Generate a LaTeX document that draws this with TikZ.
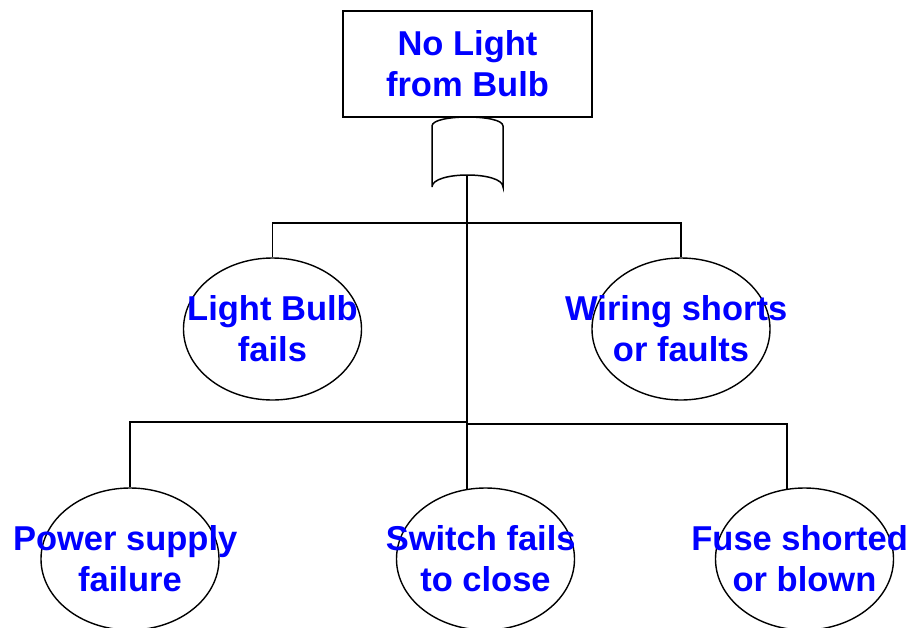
\documentclass[tikz,border=0pt]{standalone}
\usepackage{fontspec}
\setmainfont{Liberation Sans}
\usetikzlibrary{shapes.geometric}
\definecolor{evblue}{RGB}{0,0,255}
% width of the trailing space kept at the end of some first lines
\newcommand{\tailsp}{\kern9.6pt}
\tikzset{
  wire/.style={draw=black, line width=1.5pt},
  evtext/.style={text=evblue, font=\bfseries\fontsize{34.5}{41}\selectfont,
    align=center, inner sep=0pt},
  topbox/.style={draw, line width=1.5pt, minimum width=249pt,
    minimum height=106pt, inner sep=0pt},
  basicev/.style={draw, ellipse, line width=1.4pt, minimum width=178pt,
    minimum height=142pt, inner sep=0pt},
}
\begin{document}
\begin{tikzpicture}[x=1pt,y=-1pt]
\useasboundingbox (0,0) rectangle (908,627);

% top event
\node[topbox] (top) at (467.5,64) {};
\node[evtext] (toplabel) at (top.center) {No Light\\from Bulb};

% OR gate below the top event
\draw[wire] (432,187) -- (432,126)
  .. controls (432,114) and (503,114) .. (503,126) -- (503,187)
  .. controls (503,171) and (432,171) .. (432,187);
\coordinate (gout) at (467,175);

% basic events
\node[basicev] (bulb) at (272.5,329) {};
\node[evtext] (bulblabel) at (bulb.center) {Light Bulb\\fails};
\node[basicev] (wiring) at (681,329) {};
\node[evtext] (wiringlabel) at (wiring.center) {Wiring shorts\tailsp\\or faults};

\node[basicev] (power) at (130,559) {};
\node[evtext] (powerlabel) at (power.center) {Power supply\tailsp\\failure};
\node[basicev] (switch) at (485.5,559) {};
\node[evtext] (switchlabel) at (switch.center) {Switch fails\tailsp\\to close};
\node[basicev] (fuse) at (804.5,559) {};
\node[evtext] (fuselabel) at (fuse.center) {Fuse shorted\tailsp\\or blown};

% junction points and connector ends
\coordinate (split) at (467,223);
\coordinate (bus) at (467,422);
\coordinate (swtop) at (467,490);
\coordinate (fusetop) at (787,489.5);

% connectors
\draw[wire] (gout) -- (bus);
\draw[wire] (bulb.north) -- (bulb.north |- split) -- (wiring.north |- split) -- (wiring.north);
\draw[wire] (power.north) |- (bus);
\draw[wire] (bus) -- (swtop);
\draw[wire] (bus) -- ++(0,2) -| (fusetop);
\end{tikzpicture}
\end{document}
